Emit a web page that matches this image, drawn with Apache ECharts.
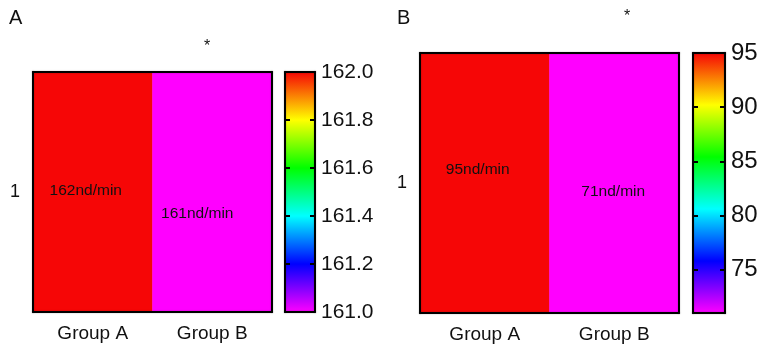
<!DOCTYPE html>
<html><head><meta charset="utf-8">
<script src="https://cdn.jsdelivr.net/npm/echarts@6/dist/echarts.min.js"></script>
<style>html,body{margin:0;padding:0;background:#fff}#c{width:761px;height:347px}</style>
</head><body><div id="c"></div>
<script>
const groups = ['Group A', 'Group B'];
const rowLabels = ['1'];
const valuesA = [162, 161];
const valuesB = [95, 71];
const cellTextA = ['162nd/min', '161nd/min'];
const cellTextB = ['95nd/min', '71nd/min'];
const rangeA = [161, 162];
const rangeB = [71, 95];
const labelTicksB = [75, 80, 85, 90, 95];
const innerTicksA = [161.2, 161.4, 161.6, 161.8];
const innerTicksB = [75, 80, 85, 90];
const rainbow = ['#ff00ff', '#0000ff', '#00ffff', '#00ff00', '#ffff00', '#f60606'];

const FONT = 'Liberation Sans, Arial, sans-serif';
const TXT = '#111';
const line = {show: true, lineStyle: {color: '#000', width: 2, shadowBlur: 1.5, shadowColor: 'rgba(0,0,0,0.35)'}};

const chart = echarts.init(document.getElementById('c'), null, {renderer: 'canvas'});

function gradient() {
  return new echarts.graphic.LinearGradient(0, 1, 0, 0,
    rainbow.map((c, i) => ({offset: i / (rainbow.length - 1), color: c})));
}
function barRender(params, api) {
  const p0 = api.coord([api.value(0), api.value(1)]);
  const p1 = api.coord([api.value(0), api.value(2)]);
  const w = api.size([1, 0])[0];
  return {type: 'rect', shape: {x: p0[0] - w / 2, y: p1[1], width: w, height: p0[1] - p1[1]},
          style: {fill: gradient()}};
}

const grids = [
  {left: 33, top: 72, width: 239, height: 240},
  {left: 285, top: 72, width: 30, height: 240},
  {left: 420, top: 53, width: 259, height: 260},
  {left: 693, top: 53, width: 32, height: 260}
];

const xAxis = [], yAxis = [];
function heatAxes(g) {
  xAxis.push({type: 'category', gridIndex: g, data: groups, position: 'bottom', z: 10,
    axisLine: line, axisTick: {show: false},
    axisLabel: {fontFamily: FONT, fontSize: 19, color: TXT, margin: 12}});
  xAxis.push({type: 'category', gridIndex: g, data: groups, position: 'top', z: 10,
    axisLine: line, axisTick: {show: false}, axisLabel: {show: false}});
  yAxis.push({type: 'category', gridIndex: g, data: rowLabels, position: 'left', z: 10,
    axisLine: line, axisTick: {show: false},
    axisLabel: {fontFamily: FONT, fontSize: 18, color: TXT, margin: 13}});
  yAxis.push({type: 'category', gridIndex: g, data: rowLabels, position: 'right', z: 10,
    axisLine: line, axisTick: {show: false}, axisLabel: {show: false}});
}
function barAxes(g, range, labelOpt, ticks) {
  xAxis.push({type: 'category', gridIndex: g, data: ['c'], position: 'bottom', z: 10,
    axisLine: line, axisTick: {show: false}, axisLabel: {show: false}});
  xAxis.push({type: 'category', gridIndex: g, data: ['c'], position: 'top', z: 10,
    axisLine: line, axisTick: {show: false}, axisLabel: {show: false}});
  const tick = {show: true, inside: true, length: 5, customValues: ticks, lineStyle: {color: '#000', width: 2}};
  yAxis.push(Object.assign({type: 'value', gridIndex: g, min: range[0], max: range[1], position: 'right', z: 10,
    axisLine: line, axisTick: tick, splitLine: {show: false}}, labelOpt));
  yAxis.push({type: 'value', gridIndex: g, min: range[0], max: range[1], position: 'left', z: 10,
    axisLine: line, axisTick: tick, splitLine: {show: false}, axisLabel: {show: false}});
}
heatAxes(0);
barAxes(1, rangeA, {interval: 0.2, axisLabel: {fontFamily: FONT, fontSize: 21, color: TXT, margin: 6,
  formatter: v => v.toFixed(1)}}, innerTicksA);
heatAxes(2);
barAxes(3, rangeB, {axisLabel: {fontFamily: FONT, fontSize: 24, color: TXT, margin: 6,
  customValues: labelTicksB}}, innerTicksB);

const labelOffsetsA = [[-7, -1], [-15, 22]];
const labelOffsetsB = [[-7, -13], [-1, 9]];
function heatData(vals, texts, offs) {
  return vals.map((v, i) => ({value: [i, 0, v], label: {offset: offs[i], formatter: texts[i]}}));
}
const heatLabel = {show: true, fontFamily: FONT, fontSize: 15.5, color: '#111'};

chart.setOption({
  animation: false,
  backgroundColor: '#fff',
  grid: grids,
  xAxis: xAxis,
  yAxis: yAxis,
  visualMap: [
    {show: false, seriesIndex: 0, dimension: 2, min: rangeA[0], max: rangeA[1], inRange: {color: rainbow}},
    {show: false, seriesIndex: 2, dimension: 2, min: rangeB[0], max: rangeB[1], inRange: {color: rainbow}}
  ],
  graphic: [
    {type: 'text', left: 9, top: 8, style: {text: 'A', font: '20px ' + FONT, fill: TXT}},
    {type: 'text', left: 397, top: 8, style: {text: 'B', font: '20px ' + FONT, fill: TXT}},
    {type: 'text', left: 204, top: 39, style: {text: '*', font: '16px ' + FONT, fill: TXT}},
    {type: 'text', left: 624, top: 9, style: {text: '*', font: '16px ' + FONT, fill: TXT}}
  ],
  series: [
    {type: 'heatmap', xAxisIndex: 0, yAxisIndex: 0, data: heatData(valuesA, cellTextA, labelOffsetsA),
     label: heatLabel, itemStyle: {borderWidth: 0}},
    {type: 'custom', xAxisIndex: 2, yAxisIndex: 2, data: [[0, rangeA[0], rangeA[1]]], renderItem: barRender},
    {type: 'heatmap', xAxisIndex: 4, yAxisIndex: 4, data: heatData(valuesB, cellTextB, labelOffsetsB),
     label: heatLabel, itemStyle: {borderWidth: 0}},
    {type: 'custom', xAxisIndex: 6, yAxisIndex: 6, data: [[0, rangeB[0], rangeB[1]]], renderItem: barRender}
  ]
});
</script>
</body></html>
